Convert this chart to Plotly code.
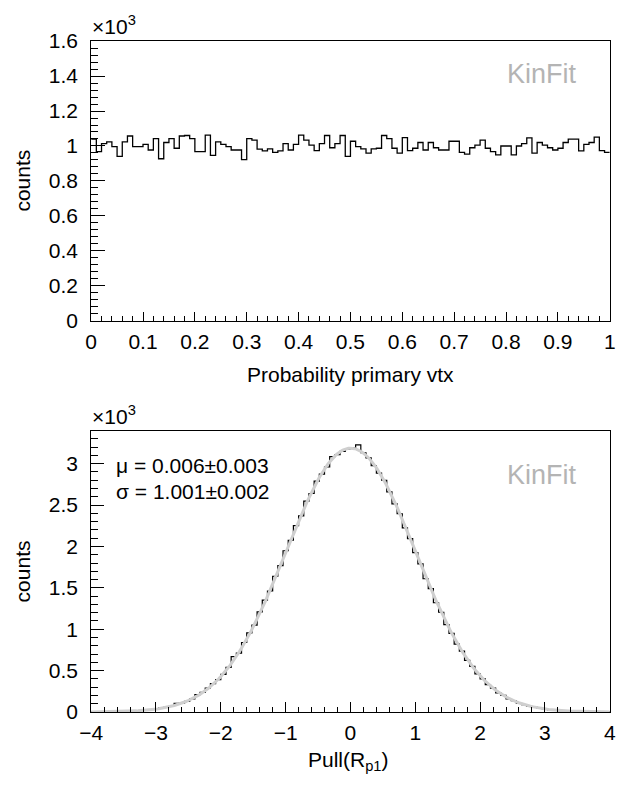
import plotly.graph_objects as go
import numpy as np

# ---------------- data ----------------
# Top: probability of primary vertex fit, 100 bins in [0, 1]
prob_lo = 0.0
prob_hi = 1.0
prob_counts = [
    1040, 968, 1014, 1024, 996, 940, 1024, 1057, 996, 996,
    1009, 977, 1042, 927, 1020, 1042, 987, 1057, 1060, 1042,
    968, 968, 1062, 946, 1024, 1009, 996, 977, 977, 922,
    1042, 1033, 982, 972, 983, 964, 972, 1014, 977, 1009,
    1062, 1033, 1005, 974, 1014, 1060, 990, 1014, 1060, 940,
    1027, 996, 983, 959, 983, 987, 1060, 1042, 987, 959,
    1048, 974, 987, 1020, 977, 1020, 990, 977, 977, 1027,
    1027, 964, 953, 990, 1005, 1033, 987, 968, 949, 1000,
    1000, 949, 1000, 1014, 1046, 959, 1020, 1005, 990, 977,
    987, 1020, 1039, 1039, 972, 1009, 1020, 1051, 974, 964,
]

# Bottom: pull distribution, 100 bins in [-4, 4]
pull_lo = -4.0
pull_hi = 4.0
pull_counts = [
    1, 2, 2, 4, 3, 7, 8, 11, 12, 18,
    21, 30, 34, 47, 55, 69, 104, 108, 128, 158,
    210, 236, 290, 342, 392, 455, 540, 668, 712, 840,
    955, 1050, 1210, 1352, 1462, 1640, 1768, 1948, 2075, 2252,
    2370, 2548, 2640, 2790, 2875, 2960, 3085, 3110, 3150, 3180,
    3190, 3228, 3132, 3070, 2975, 2885, 2800, 2660, 2515, 2395,
    2225, 2095, 1925, 1790, 1610, 1490, 1320, 1205, 1055, 950,
    820, 735, 625, 552, 460, 400, 330, 288, 232, 200,
    158, 136, 105, 90, 68, 59, 43, 36, 26, 23,
    15, 14, 9, 7, 5, 4, 3, 2, 1, 1,
]

# Gaussian fit parameters
fit_mu = 0.006
fit_sigma = 1.001
fit_amp = 3188.0
fit_text = ["μ = 0.006±0.003", "σ = 1.001±0.002"]

label_tag = "KinFit"
x_title_top = "Probability primary vtx"
x_title_bot = "Pull(R<sub>p1</sub>)"
y_title = "counts"


# ---------------- helpers ----------------
def step_xy(lo, hi, counts, scale=1000.0):
    n = len(counts)
    edges = np.linspace(lo, hi, n + 1)
    ys = [c / scale for c in counts] + [counts[-1] / scale]
    return edges, ys


W, H = 624, 790
x0px, x1px = 81.5, 615.5
top_y0, top_y1 = 30, 318
bot_y0, bot_y1 = 432, 721


def px(x):
    return x / W


def py(y):
    return 1 - y / H


FONT = "Liberation Sans, Arial, Helvetica, sans-serif"
FS = 21

fig = go.Figure()

ex, ey = step_xy(prob_lo, prob_hi, prob_counts)
fig.add_trace(go.Scatter(x=ex, y=ey, mode="lines", line=dict(color="black", width=1.3, shape="hv"),
                         xaxis="x", yaxis="y", showlegend=False, hoverinfo="skip"))

bx, by = step_xy(pull_lo, pull_hi, pull_counts)
fig.add_trace(go.Scatter(x=bx, y=by, mode="lines", line=dict(color="black", width=1.2, shape="hv"),
                         xaxis="x2", yaxis="y2", showlegend=False, hoverinfo="skip"))

fx = np.linspace(pull_lo, pull_hi, 400)
fy = fit_amp * np.exp(-0.5 * ((fx - fit_mu) / fit_sigma) ** 2) / 1000.0
fig.add_trace(go.Scatter(x=fx, y=fy, mode="lines", line=dict(color="#cfcfcf", width=3),
                         xaxis="x2", yaxis="y2", showlegend=False, hoverinfo="skip"))

axis_common = dict(showline=True, linecolor="black", linewidth=1, mirror=True,
                   ticks="inside", tickcolor="black", tickwidth=1,
                   showgrid=False, zeroline=False,
                   tickfont=dict(family=FONT, size=FS, color="black"))

fig.update_layout(
    width=W, height=H, autosize=False,
    margin=dict(l=0, r=0, t=0, b=0),
    paper_bgcolor="white", plot_bgcolor="white",
    font=dict(family=FONT, size=FS, color="black"),
    xaxis=dict(domain=[px(x0px), px(x1px)], anchor="y", range=[0, 1], dtick=0.1, tick0=0,
               ticklen=9, ticklabelstandoff=2,
               minor=dict(ticks="inside", dtick=0.02, tick0=0, ticklen=4.5, tickcolor="black", showgrid=False),
               **axis_common),
    yaxis=dict(domain=[py(top_y1), py(top_y0)], anchor="x", range=[0, 1.6], dtick=0.2, tick0=0,
               ticklen=14, ticklabelstandoff=8,
               minor=dict(ticks="inside", dtick=0.04, tick0=0, ticklen=7, tickcolor="black", showgrid=False),
               **axis_common),
    xaxis2=dict(domain=[px(x0px), px(x1px)], anchor="y2", range=[-4, 4], dtick=1, tick0=0,
                ticklen=10, ticklabelstandoff=2,
                minor=dict(ticks="inside", dtick=0.2, tick0=0, ticklen=5, tickcolor="black", showgrid=False),
                **axis_common),
    yaxis2=dict(domain=[py(bot_y1), py(bot_y0)], anchor="x2", range=[0, 3.39], dtick=0.5, tick0=0,
                ticklen=13, ticklabelstandoff=8,
                minor=dict(ticks="inside", dtick=0.1, tick0=0, ticklen=6.5, tickcolor="black", showgrid=False),
                **axis_common),
)

ann = []
for ytop in (top_y0, bot_y0):
    ann.append(dict(x=px(x0px - 1), y=py(ytop - 1), xref="paper", yref="paper", xanchor="left", yanchor="bottom",
                    text="×10<sup>3</sup>", showarrow=False, font=dict(family=FONT, size=FS, color="black")))
ann.append(dict(x=px(546), y=py(64), xref="paper", yref="paper", xanchor="center", yanchor="middle",
                text=label_tag, showarrow=False, font=dict(family=FONT, size=27, color="#b4b4b4")))
ann.append(dict(x=px(546), y=py(477), xref="paper", yref="paper", xanchor="center", yanchor="middle",
                text=label_tag, showarrow=False, font=dict(family=FONT, size=27, color="#b4b4b4")))
ann.append(dict(x=px(105), y=py(467), xref="paper", yref="paper", xanchor="left", yanchor="middle",
                text=fit_text[0], showarrow=False, font=dict(family=FONT, size=FS, color="black")))
ann.append(dict(x=px(105), y=py(494), xref="paper", yref="paper", xanchor="left", yanchor="middle",
                text=fit_text[1], showarrow=False, font=dict(family=FONT, size=FS, color="black")))
ann.append(dict(x=px(348.5), y=py(373), xref="paper", yref="paper", xanchor="center", yanchor="middle",
                text=x_title_top, showarrow=False, font=dict(family=FONT, size=FS, color="black")))
ann.append(dict(x=px(346), y=py(756), xref="paper", yref="paper", xanchor="center", yanchor="top",
                text=x_title_bot, showarrow=False, font=dict(family=FONT, size=FS, color="black")))
for yc in ((top_y0 + top_y1) / 2, (bot_y0 + bot_y1) / 2):
    ann.append(dict(x=px(11), y=py(yc), xref="paper", yref="paper", xanchor="center", yanchor="middle",
                    text=y_title, textangle=-90, showarrow=False, font=dict(family=FONT, size=FS, color="black")))
fig.update_layout(annotations=ann)

fig.write_html("out.html")
